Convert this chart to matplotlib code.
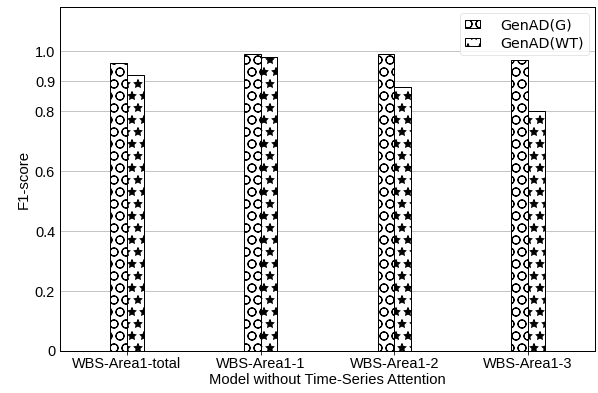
import matplotlib
matplotlib.use("Agg")
import matplotlib.pyplot as plt
import numpy as np

categories = ["WBS-Area1-total", "WBS-Area1-1", "WBS-Area1-2", "WBS-Area1-3"]
genad_g = [0.96, 0.99, 0.99, 0.97]
genad_wt = [0.92, 0.98, 0.88, 0.80]
series_names = ["GenAD(G)", "GenAD(WT)"]
yticks = [0, 0.2, 0.4, 0.6, 0.8, 0.9, 1.0]
yticklabels = ["0", "0.2", "0.4", "0.6", "0.8", "0.9", "1.0"]

DPI = 72
fig = plt.figure(figsize=(598 / DPI, 393 / DPI), dpi=DPI)
ax = fig.add_axes([60 / 598, 42 / 393, 535 / 598, 344 / 393])

x = np.arange(len(categories))
w = 0.125
ax.bar(x - w / 2, genad_g, w, color="white", edgecolor="black", hatch="O",
       linewidth=1.0, label=series_names[0], zorder=3)
ax.bar(x + w / 2, genad_wt, w, color="white", edgecolor="black", hatch="*",
       linewidth=1.0, label=series_names[1], zorder=3)

ax.set_xlim(-0.5, 3.5)
ax.set_ylim(0, 1.147)
ax.set_yticks(yticks)
ax.set_yticklabels(yticklabels, family="Liberation Sans", fontsize=14.5)
ax.set_xticks(x)
ax.set_xticklabels(categories, family="Liberation Sans", fontsize=14.5)
ax.tick_params(axis="y", length=0, pad=5)
ax.tick_params(axis="x", length=3.5, pad=3)
ax.yaxis.grid(True, color="#c4c4c4", linewidth=1.0, zorder=0)
ax.set_axisbelow(True)

ax.set_ylabel("F1-score", family="Liberation Sans", fontsize=15)
ax.set_xlabel("Model without Time-Series Attention", family="Liberation Sans",
              fontsize=14.8, labelpad=2)
for s in ax.spines.values():
    s.set_linewidth(1.0)

leg = ax.legend(loc="upper right", prop={"family": "DejaVu Sans", "size": 14.3},
                borderaxespad=0.45, handlelength=1.05, handleheight=0.5,
                labelspacing=0.25, borderpad=0.35, handletextpad=1.4)
leg.get_frame().set_edgecolor("#e0e0e0")

fig.savefig("out.png", dpi=DPI)
